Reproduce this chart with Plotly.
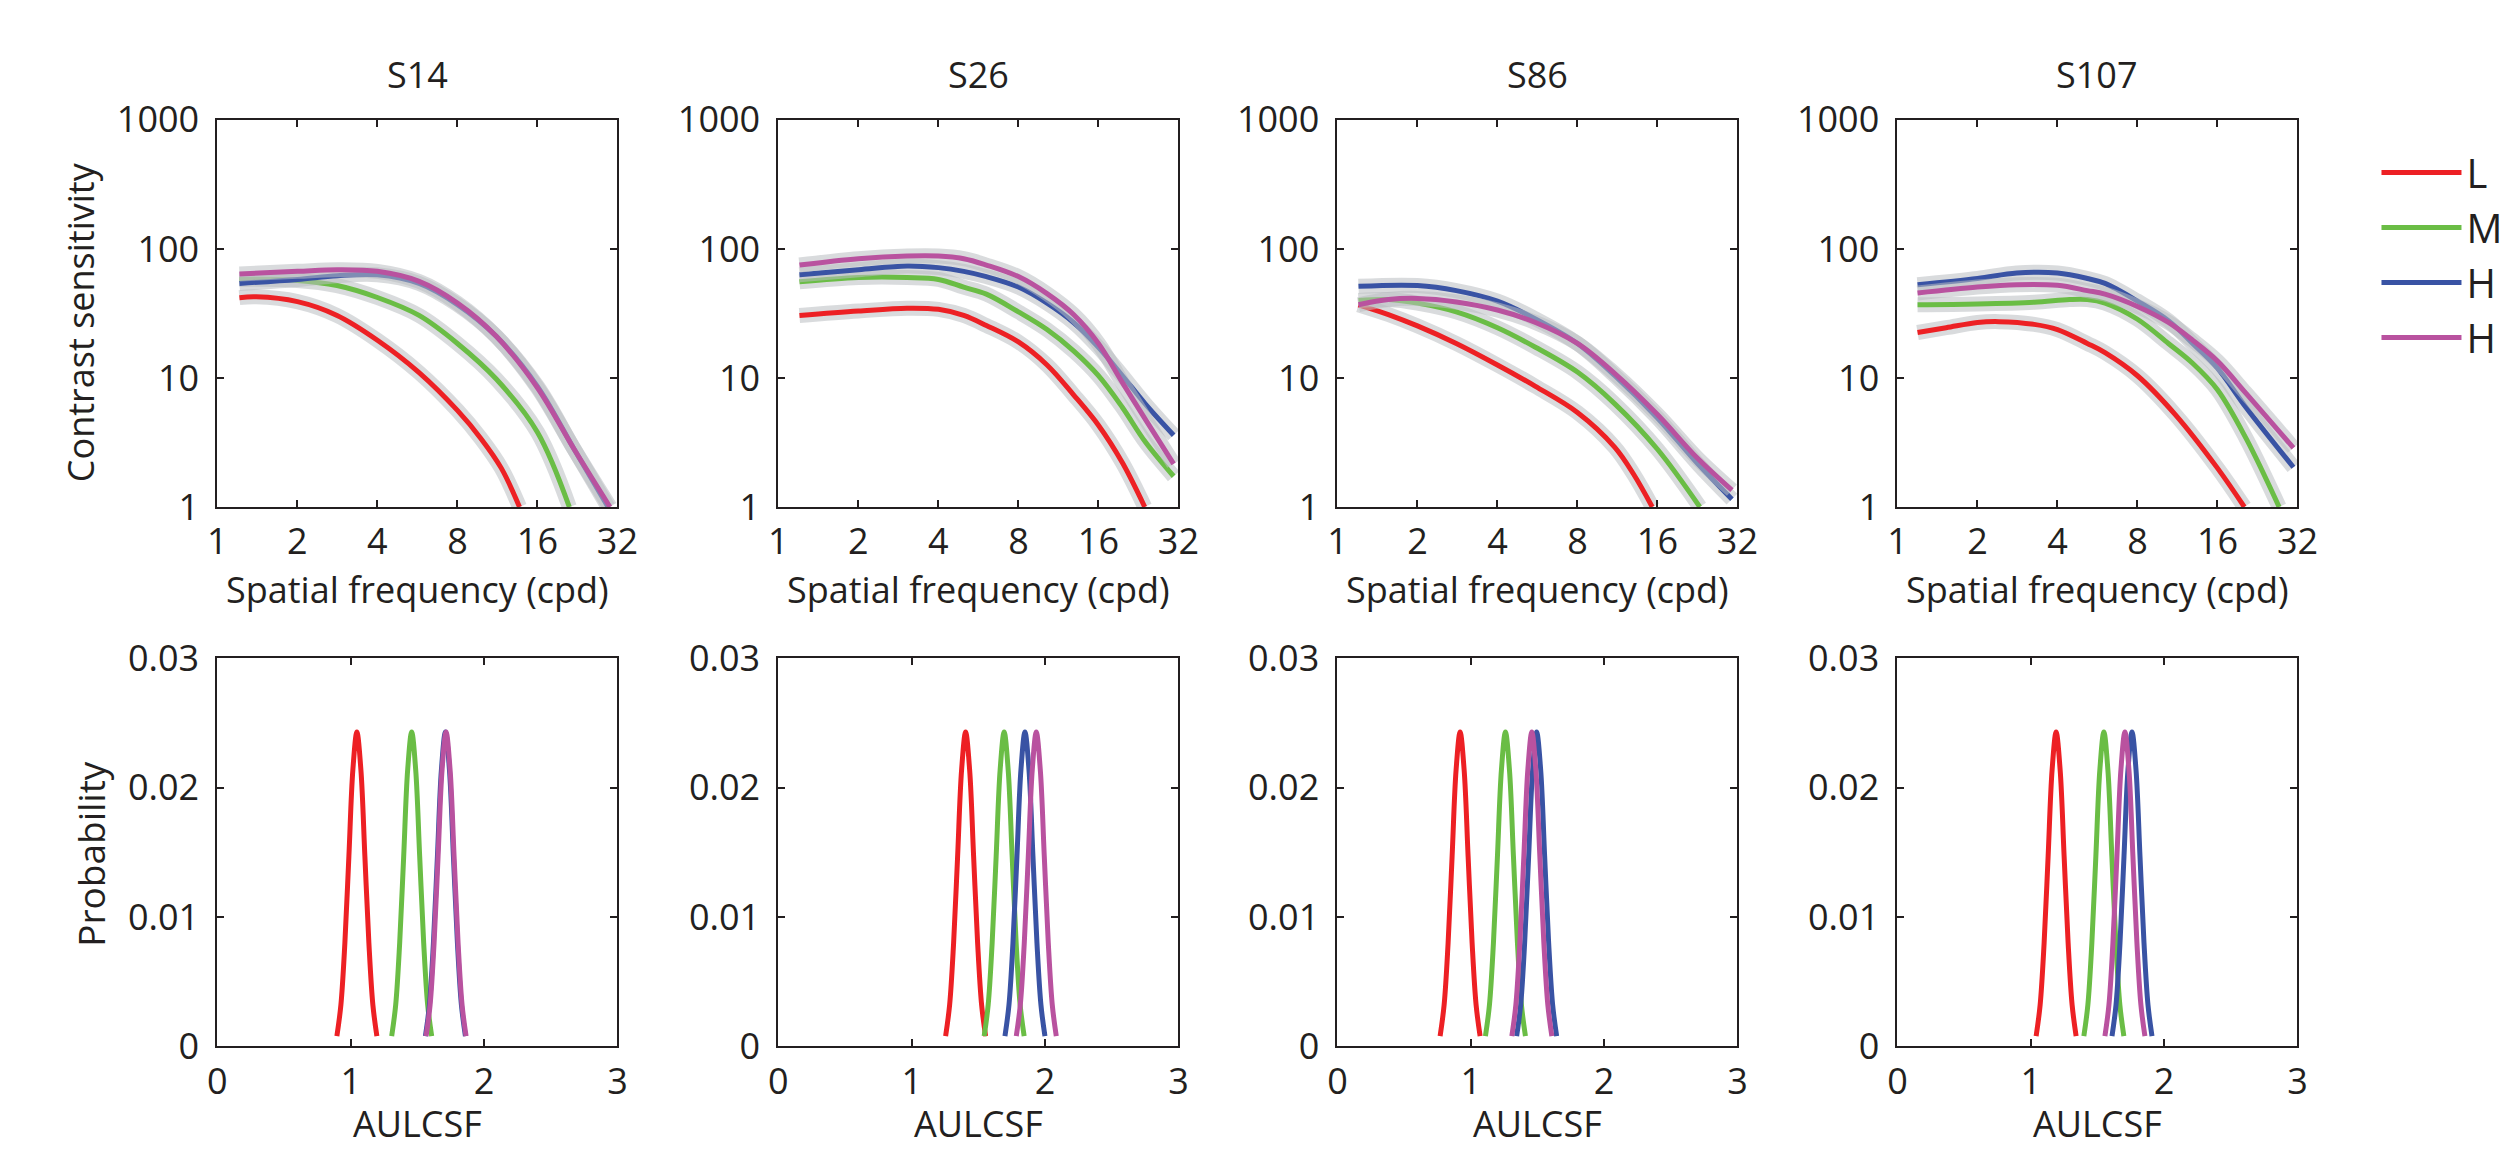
import plotly.graph_objects as go
from plotly.subplots import make_subplots

W, H = 2516, 1172

SUBJECTS = ["S14", "S26", "S86", "S107"]
SERIES = ["L", "M", "H", "H"]
COLORS = ["#ed2024", "#6abd45", "#3953a4", "#b9529f"]

# ---- top row: contrast sensitivity functions (spatial frequency, sensitivity) ----
S14_L_f = [1.21, 1.4, 2, 2.82, 4, 5.74, 8, 9.8, 11.7, 13.7]
S14_L_v = [41.9, 42.5, 39, 30.5, 19.6, 11.0, 5.6, 3.4, 2.0, 1.0]
S14_M_f = [1.21, 2, 2.82, 4, 5.74, 8, 11.2, 16, 21.1]
S14_M_v = [58, 57, 52, 42, 30.5, 18.5, 9.8, 3.8, 1.0]
S14_H1_f = [1.21, 2, 2.82, 4, 5.74, 8, 11.2, 16, 22, 29.5]
S14_H1_v = [54, 58, 62, 63, 54, 37, 21, 8.6, 2.8, 1.0]
S14_H2_f = [1.21, 2, 2.82, 4, 5.74, 8, 11.2, 16, 22, 30]
S14_H2_v = [64, 67, 69, 67, 56, 38, 21, 8.4, 2.8, 1.0]

S26_f = [1.2, 2, 3.05, 4, 4.98, 6.06, 8, 10.25, 12.9, 16, 19.7, 24, 30.7]
S26_L_f = [1.2, 2, 3.05, 4, 4.98, 6.06, 8, 10.25, 12.9, 16, 19.7, 23.9]
S26_L_v = [30.5, 33, 34.7, 34, 30.5, 25.5, 19, 12.6, 7.4, 4.3, 2.2, 1.0]
S26_M_v = [55.6, 60, 60, 58, 50.5, 44.6, 32.5, 23.7, 16.2, 10.4, 5.9, 3.2, 1.73]
S26_H1_v = [63, 69, 73.8, 71.6, 67, 61, 50.6, 38, 26.9, 17.3, 10.4, 6.3, 3.6]
S26_H2_v = [75, 84, 88, 88, 84, 75, 61, 45, 31, 18.5, 9.2, 4.8, 2.16]

S86_L_f = [1.2, 1.555, 2, 2.8, 4, 5.56, 8, 11.06, 13.0, 15.3]
S86_L_v = [36.9, 31, 25.3, 18.5, 12.6, 8.6, 5.4, 2.9, 1.8, 1.0]
S86_M_f = [1.2, 1.555, 2, 2.8, 4, 5.56, 8, 11.06, 16, 23.1]
S86_M_v = [39.8, 40.5, 38, 32.5, 24.5, 17.3, 11.1, 6.3, 2.8, 1.0]
S86_H1_f = [1.2, 2, 2.8, 4, 5.56, 8, 11.06, 16, 22.7, 30.5]
S86_H1_v = [51.3, 52, 47.5, 39.4, 28.7, 18.5, 10.4, 4.9, 2.16, 1.15]
S86_H2_f = [1.2, 1.555, 2, 2.8, 4, 5.56, 8, 11.06, 16, 22.7, 30.5]
S86_H2_v = [36.9, 40.5, 41.3, 38.8, 33.6, 26.9, 18.5, 10.8, 5.2, 2.37, 1.35]

S107_L_f = [1.19, 1.525, 2, 2.41, 3.27, 4, 5.18, 6.04, 8, 11.1, 16, 20.2]
S107_L_v = [22.5, 24.5, 26.9, 27.3, 26, 23.7, 18.5, 15.7, 10.4, 5.2, 2.0, 1.0]
S107_M_f = [1.19, 2, 3.27, 4.44, 5.18, 6.04, 8, 10.46, 12.9, 16, 20.5, 27.3]
S107_M_v = [36.9, 37.4, 38.6, 40.5, 40.5, 38, 28.5, 18.5, 13.0, 8.1, 3.4, 1.0]
S107_H_f = [1.19, 2, 2.81, 4, 5.18, 6.04, 8, 10.46, 12.9, 16, 20.5, 30.9]
S107_H1_v = [52.8, 59, 65, 65, 59, 54, 39.4, 27.8, 18.5, 11.9, 5.9, 2.03]
S107_H2_v = [45.5, 50.6, 52.8, 52.2, 47.5, 44.6, 35.8, 26.9, 19.6, 13.5, 7.6, 2.87]

CSF = [
    [(S14_L_f, S14_L_v), (S14_M_f, S14_M_v), (S14_H1_f, S14_H1_v), (S14_H2_f, S14_H2_v)],
    [(S26_L_f, S26_L_v), (S26_f, S26_M_v), (S26_f, S26_H1_v), (S26_f, S26_H2_v)],
    [(S86_L_f, S86_L_v), (S86_M_f, S86_M_v), (S86_H1_f, S86_H1_v), (S86_H2_f, S86_H2_v)],
    [(S107_L_f, S107_L_v), (S107_M_f, S107_M_v), (S107_H_f, S107_H1_v), (S107_H_f, S107_H2_v)],
]

# ---- bottom row: posterior distributions of AULCSF ----
AUL_OFFSET = [-0.15, -0.12, -0.09, -0.06, -0.03, 0, 0.03, 0.06, 0.09, 0.12, 0.15]
AUL_PROB = [0.0008, 0.0032, 0.0080, 0.0147, 0.0214, 0.0243, 0.0214, 0.0147, 0.0080, 0.0032, 0.0008]
AUL_CENTER = [
    [1.046, 1.457, 1.71, 1.715],
    [1.404, 1.693, 1.849, 1.934],
    [0.920, 1.260, 1.494, 1.458],
    [1.190, 1.548, 1.759, 1.706],
]

X_TICKS = [1, 2, 4, 8, 16, 32]
Y_TICKS = [1, 10, 100, 1000]
P_TICKS = [0, 0.01, 0.02, 0.03]
P_TICKTEXT = ["0", "0.01", "0.02", "0.03"]
A_TICKS = [0, 1, 2, 3]

# ---- layout geometry (pixels) ----
LEFTS = [210, 778, 1344, 1911]
PW = 405
TOP_ROW = (99, 503)
BOT_ROW = (661, 1066)
TXT = "#231f20"
FONT = "Open Sans"

fig = make_subplots(rows=2, cols=4)

band = "rgba(186,189,193,0.55)"
for c in range(4):
    for s in range(4):
        f, v = CSF[c][s]
        fig.add_trace(go.Scatter(x=f, y=v, mode="lines", line=dict(color=band, width=15, shape="spline"),
                                 hoverinfo="skip", showlegend=False), row=1, col=c + 1)
        fig.add_trace(go.Scatter(x=f, y=v, mode="lines", name=SERIES[s],
                                 line=dict(color=COLORS[s], width=5, shape="spline"),
                                 showlegend=(c == 0)), row=1, col=c + 1)
    for s in range(4):
        xs = [AUL_CENTER[c][s] + o for o in AUL_OFFSET]
        fig.add_trace(go.Scatter(x=xs, y=AUL_PROB, mode="lines", name=SERIES[s],
                                 line=dict(color=COLORS[s], width=5, shape="spline"),
                                 showlegend=False), row=2, col=c + 1)

axis_common = dict(showline=True, linecolor=TXT, linewidth=2, mirror="allticks", ticks="inside",
                   ticklen=7, tickwidth=2, tickcolor=TXT, showgrid=False, zeroline=False,
                   tickfont=dict(family=FONT, size=36, color=TXT))

for c in range(4):
    x0, x1 = LEFTS[c] / W, (LEFTS[c] + PW) / W
    fig.update_xaxes(row=1, col=c + 1, type="log", range=[0, 1.50515], tickvals=X_TICKS,
                     ticktext=[str(t) for t in X_TICKS], domain=[x0, x1], ticklabelstandoff=2,
                     **axis_common)
    fig.update_yaxes(row=1, col=c + 1, type="log", range=[0, 3], tickvals=Y_TICKS,
                     ticktext=[str(t) for t in Y_TICKS], ticklabelstandoff=9,
                     domain=[1 - TOP_ROW[1] / H, 1 - TOP_ROW[0] / H], **axis_common)
    fig.update_xaxes(row=2, col=c + 1, range=[0, 3], tickvals=A_TICKS,
                     ticktext=[str(t) for t in A_TICKS], domain=[x0, x1], ticklabelstandoff=2,
                     **axis_common)
    fig.update_yaxes(row=2, col=c + 1, range=[0, 0.03], tickvals=P_TICKS, ticktext=P_TICKTEXT,
                     ticklabelstandoff=9,
                     domain=[1 - BOT_ROW[1] / H, 1 - BOT_ROW[0] / H], **axis_common)

ann = []
for c in range(4):
    cx = (LEFTS[c] + PW / 2) / W
    ann.append(dict(text=SUBJECTS[c], x=cx, y=1 - 52 / H, xref="paper", yref="paper",
                    showarrow=False, xanchor="center", yanchor="middle",
                    font=dict(family=FONT, size=36, color=TXT)))
    ann.append(dict(text="Spatial frequency (cpd)", x=cx, y=1 - 589 / H, xref="paper", yref="paper",
                    showarrow=False, xanchor="center", yanchor="middle",
                    font=dict(family=FONT, size=36, color=TXT)))
    ann.append(dict(text="AULCSF", x=cx, y=1 - 1146 / H, xref="paper", yref="paper",
                    showarrow=False, xanchor="center", yanchor="middle",
                    font=dict(family=FONT, size=36, color=TXT)))
ann.append(dict(text="Contrast sensitivity", x=71 / W, y=1 - 310 / H, xref="paper", yref="paper",
                showarrow=False, textangle=-90, xanchor="center", yanchor="middle",
                font=dict(family=FONT, size=36, color=TXT)))
ann.append(dict(text="Probability", x=82 / W, y=1 - 865 / H, xref="paper", yref="paper",
                showarrow=False, textangle=-90, xanchor="center", yanchor="middle",
                font=dict(family=FONT, size=37, color=TXT)))

fig.update_layout(
    width=W, height=H, autosize=False,
    margin=dict(l=0, r=0, t=0, b=0),
    paper_bgcolor="white", plot_bgcolor="white",
    font=dict(family=FONT, color=TXT),
    annotations=ann,
    legend=dict(x=2396 / W, y=1 - 120 / H, xanchor="left", yanchor="top",
                font=dict(family=FONT, size=40, color=TXT), bgcolor="rgba(0,0,0,0)",
                itemwidth=80),
)

fig.write_html("out.html", config={"displayModeBar": False},
               post_script="document.body.style.margin='0';document.body.style.overflow='hidden';")
